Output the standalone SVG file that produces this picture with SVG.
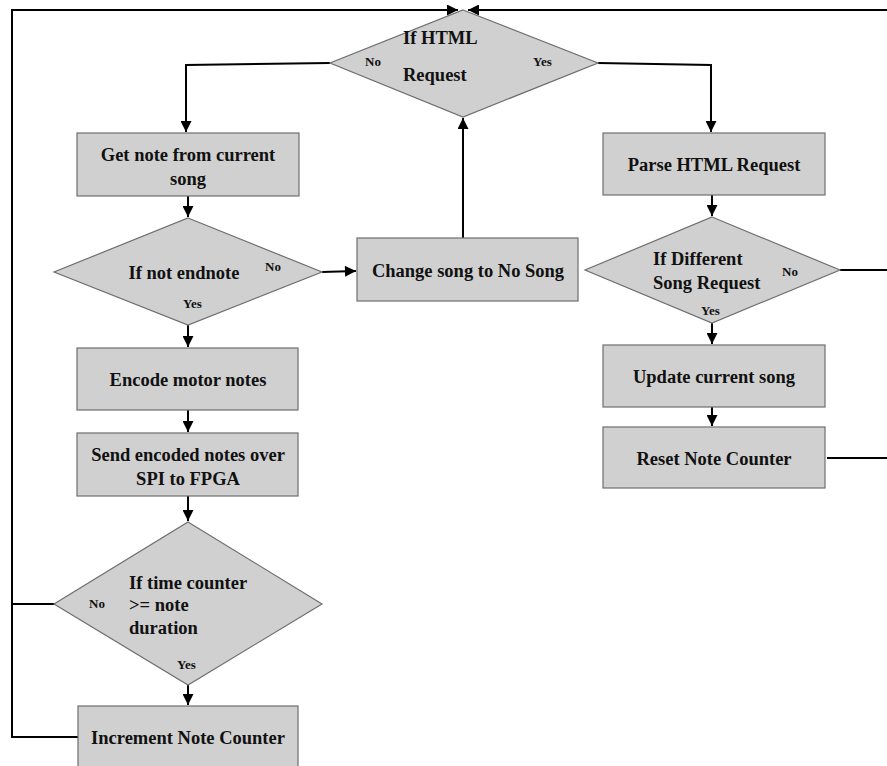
<svg xmlns="http://www.w3.org/2000/svg" width="887" height="766" viewBox="0 0 887 766">
  <style>
    .box { fill: #d0d0d0; stroke: #6e6e6e; stroke-width: 1.2; }
    .t { font-family: "Liberation Serif", "Times New Roman", serif; font-weight: bold; font-size: 18.5px; fill: #111; }
    .s { font-family: "Liberation Serif", "Times New Roman", serif; font-weight: bold; font-size: 13px; fill: #111; }
    .c { text-anchor: middle; }
    .wire { fill: none; stroke: #000; stroke-width: 2; }
  </style>
  <defs>
    <marker id="arr" viewBox="0 0 10 10" refX="10" refY="5" markerWidth="6" markerHeight="5.5" orient="auto" markerUnits="strokeWidth">
      <path d="M0,0 L10,5 L0,10 Z" fill="#000"/>
    </marker>
  </defs>
  <rect width="887" height="766" fill="#fff"/>

  <g id="connectors">
    <!-- loop back from left column to top -->
    <polyline class="wire" points="78,737 12,737 12,10 458,10" marker-end="url(#arr)"/>
    <polyline class="wire" points="55,604 12,604"/>
    <!-- loop back from right column to top -->
    <polyline class="wire" points="887,10 468,10" marker-end="url(#arr)"/>
    <polyline class="wire" points="840,270 887,270"/>
    <polyline class="wire" points="827,458 887,458"/>
    <!-- top decision branches -->
    <polyline class="wire" points="330,63 186,65 186,132" marker-end="url(#arr)"/>
    <polyline class="wire" points="598,63 711,65 711,132" marker-end="url(#arr)"/>
    <!-- left column -->
    <polyline class="wire" points="188,196 188,217" marker-end="url(#arr)"/>
    <polyline class="wire" points="322,272 356,271" marker-end="url(#arr)"/>
    <polyline class="wire" points="463,238 463,118" marker-end="url(#arr)"/>
    <polyline class="wire" points="188,325 188,347" marker-end="url(#arr)"/>
    <polyline class="wire" points="188,410 188,432" marker-end="url(#arr)"/>
    <polyline class="wire" points="188,496 188,521" marker-end="url(#arr)"/>
    <polyline class="wire" points="188,685 188,705" marker-end="url(#arr)"/>
    <!-- right column -->
    <polyline class="wire" points="712,195 712,216" marker-end="url(#arr)"/>
    <polyline class="wire" points="712,323 712,344" marker-end="url(#arr)"/>
    <polyline class="wire" points="712,407 712,426" marker-end="url(#arr)"/>
  </g>

  <g id="html-request">
    <polygon class="box" points="463,10 598,63 463,117 330,63"/>
    <text class="t" x="403" y="44">If HTML</text>
    <text class="t" x="403" y="81">Request</text>
    <text class="s" x="365" y="66">No</text>
    <text class="s" x="533" y="66">Yes</text>
  </g>

  <g id="get-note">
    <rect class="box" x="77" y="133" width="222" height="63"/>
    <text class="t c" x="188" y="161">Get note from current</text>
    <text class="t c" x="188" y="185">song</text>
  </g>

  <g id="not-endnote">
    <polygon class="box" points="188,218 322,272 188,325 54,272"/>
    <text class="t c" x="184" y="279">If not endnote</text>
    <text class="s" x="265" y="271">No</text>
    <text class="s" x="183" y="308">Yes</text>
  </g>

  <g id="change-song">
    <rect class="box" x="357" y="238" width="221" height="63"/>
    <text class="t c" x="468" y="277">Change song to No Song</text>
  </g>

  <g id="encode-notes">
    <rect class="box" x="77" y="348" width="221" height="62"/>
    <text class="t c" x="188" y="386">Encode motor notes</text>
  </g>

  <g id="send-notes">
    <rect class="box" x="77" y="433" width="221" height="63"/>
    <text class="t c" x="188" y="461">Send encoded notes over</text>
    <text class="t c" x="188" y="485">SPI to FPGA</text>
  </g>

  <g id="time-counter">
    <polygon class="box" points="188,522 322,604 188,685 54,604"/>
    <text class="t" x="129" y="589">If time counter</text>
    <text class="t" x="129" y="611">&gt;= note</text>
    <text class="t" x="129" y="634">duration</text>
    <text class="s" x="89" y="608">No</text>
    <text class="s" x="177" y="669">Yes</text>
  </g>

  <g id="increment-counter">
    <rect class="box" x="78" y="706" width="220" height="62"/>
    <text class="t c" x="188" y="744">Increment Note Counter</text>
  </g>

  <g id="parse-request">
    <rect class="box" x="603" y="133" width="222" height="62"/>
    <text class="t c" x="714" y="171">Parse HTML Request</text>
  </g>

  <g id="different-song">
    <polygon class="box" points="712,217 840,270 712,323 585,270"/>
    <text class="t" x="653" y="265">If Different</text>
    <text class="t" x="653" y="289">Song Request</text>
    <text class="s" x="782" y="276">No</text>
    <text class="s" x="701" y="315">Yes</text>
  </g>

  <g id="update-song">
    <rect class="box" x="603" y="345" width="222" height="62"/>
    <text class="t c" x="714" y="383">Update current song</text>
  </g>

  <g id="reset-counter">
    <rect class="box" x="603" y="427" width="222" height="61"/>
    <text class="t c" x="714" y="465">Reset Note Counter</text>
  </g>
</svg>
